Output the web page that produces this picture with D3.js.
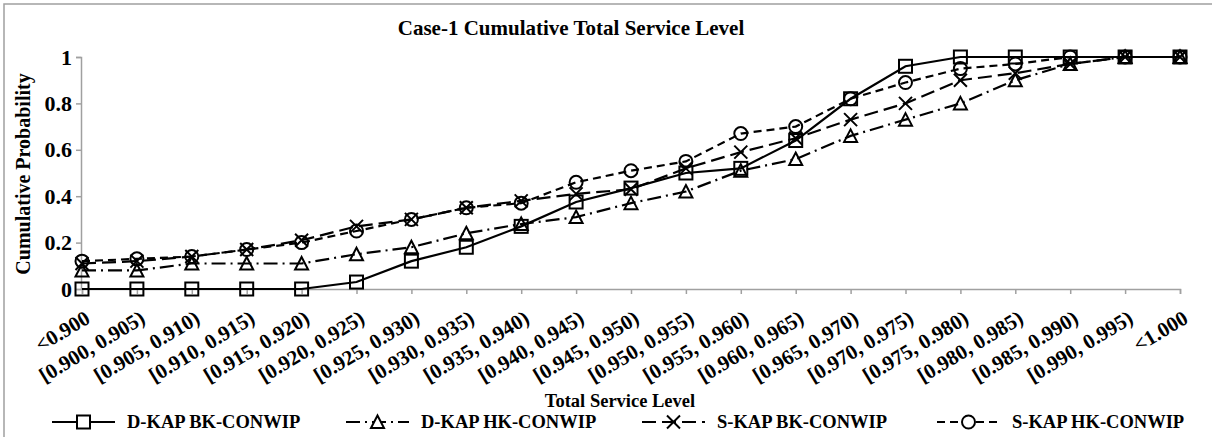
<!DOCTYPE html>
<html>
<head>
<meta charset="utf-8">
<script src="https://cdn.jsdelivr.net/npm/d3@7"></script>
<style>
  body { margin: 0; background: #fff; }
  svg text { font-family: "Liberation Serif", "Times New Roman", serif; font-weight: bold; fill: #000; }
</style>
</head>
<body>
<svg id="chart" width="1212" height="437"></svg>
<script>
// categories on the x axis
var categories = ["<0.900", "[0.900, 0.905)", "[0.905, 0.910)", "[0.910, 0.915)", "[0.915, 0.920)",
    "[0.920, 0.925)", "[0.925, 0.930)", "[0.930, 0.935)", "[0.935, 0.940)", "[0.940, 0.945)",
    "[0.945, 0.950)", "[0.950, 0.955)", "[0.955, 0.960)", "[0.960, 0.965)", "[0.965, 0.970)",
    "[0.970, 0.975)", "[0.975, 0.980)", "[0.980, 0.985)", "[0.985, 0.990)", "[0.990, 0.995)", "<1.000"];

// cumulative probability per series
var dkapBK = [0, 0, 0, 0, 0, 0.03, 0.12, 0.18, 0.27, 0.375, 0.435, 0.50, 0.52, 0.64, 0.82, 0.96, 1, 1, 1, 1, 1];
var dkapHK = [0.08, 0.08, 0.11, 0.11, 0.11, 0.15, 0.18, 0.24, 0.28, 0.31, 0.37, 0.42, 0.51, 0.56, 0.66, 0.73, 0.80, 0.90, 0.97, 1, 1];
var skapBK = [0.11, 0.12, 0.14, 0.17, 0.21, 0.27, 0.30, 0.35, 0.38, 0.41, 0.43, 0.52, 0.59, 0.65, 0.73, 0.80, 0.90, 0.93, 0.97, 1, 1];
var skapHK = [0.12, 0.13, 0.14, 0.17, 0.20, 0.25, 0.30, 0.35, 0.37, 0.46, 0.51, 0.55, 0.67, 0.70, 0.82, 0.89, 0.95, 0.97, 1, 1, 1];

var seriesNames = ["D-KAP BK-CONWIP", "D-KAP HK-CONWIP", "S-KAP BK-CONWIP", "S-KAP HK-CONWIP"];
var yTicks = [0, 0.2, 0.4, 0.6, 0.8, 1];

var series = [
    {name: seriesNames[0], values: dkapBK, dash: null, marker: "square"},
    {name: seriesNames[1], values: dkapHK, dash: "14,5,2,5", marker: "triangle"},
    {name: seriesNames[2], values: skapBK, dash: "14,6", marker: "cross"},
    {name: seriesNames[3], values: skapHK, dash: "8,5", marker: "circle"}
];

var svg = d3.select("#chart");
var axisColor = "#a0a0a0";

// outer chart border
svg.append("rect")
    .attr("x", 4).attr("y", 4)
    .attr("width", 1300).attr("height", 600)
    .attr("fill", "none")
    .attr("stroke", axisColor)
    .attr("stroke-width", 1.5);

var x = d3.scalePoint().domain(categories).range([82, 1180]);
var y = d3.scaleLinear().domain([0, 1]).range([289, 57]);

// y axis
var yAxis = svg.append("g")
    .attr("transform", "translate(81,0)")
    .call(d3.axisLeft(y).tickValues(yTicks).tickSize(5)
        .tickFormat(function(d){ return d === 0 || d === 1 ? d3.format("d")(d) : d3.format(".1f")(d); }));
yAxis.selectAll("path, line").attr("stroke", axisColor).attr("stroke-width", 1.5);
yAxis.selectAll("text").attr("font-size", 22).attr("x", -9)
    .style("font-family", "Liberation Serif").style("font-weight", "bold");

// x axis
var xAxis = svg.append("g")
    .attr("transform", "translate(0,289)")
    .call(d3.axisBottom(x).tickSize(5).tickSizeOuter(5));
xAxis.selectAll("path, line").attr("stroke", axisColor).attr("stroke-width", 1.5);
xAxis.selectAll("text")
    .attr("font-size", 21)
    .style("font-family", "Liberation Serif").style("font-weight", "bold")
    .attr("text-anchor", "end")
    .attr("x", 0).attr("y", 0).attr("dy", 0)
    .attr("transform", "translate(9,33) rotate(-31)");

// title and axis titles
svg.append("text").attr("x", 571).attr("y", 35)
    .attr("text-anchor", "middle").attr("font-size", 21)
    .text("Case-1 Cumulative Total Service Level");

svg.append("text").attr("x", 620).attr("y", 407)
    .attr("text-anchor", "middle").attr("font-size", 18.5)
    .text("Total Service Level");

svg.append("text")
    .attr("transform", "translate(30,174) rotate(-90)")
    .attr("text-anchor", "middle").attr("font-size", 20)
    .text("Cumulative Probability");

function drawMarker(g, type, cx, cy) {
    var s = 6.5;
    if (type === "square") {
        g.append("rect").attr("x", cx - s).attr("y", cy - s)
            .attr("width", 2 * s).attr("height", 2 * s);
    } else if (type === "triangle") {
        g.append("path").attr("d", "M" + cx + "," + (cy - s) + "L" + (cx + s) + "," + (cy + s - 0.5) +
            "L" + (cx - s) + "," + (cy + s - 0.5) + "Z");
    } else if (type === "circle") {
        g.append("circle").attr("cx", cx).attr("cy", cy).attr("r", s);
    } else {
        g.append("path").attr("d", "M" + (cx - s) + "," + (cy - s) + "L" + (cx + s) + "," + (cy + s) +
            "M" + (cx + s) + "," + (cy - s) + "L" + (cx - s) + "," + (cy + s));
    }
}

var line = d3.line()
    .x(function(d, i){ return x(categories[i]); })
    .y(function(d){ return y(d); });

series.forEach(function(s){
    svg.append("path")
        .datum(s.values)
        .attr("d", line)
        .attr("fill", "none")
        .attr("stroke", "#000")
        .attr("stroke-width", 2.2)
        .attr("stroke-dasharray", s.dash);
    var mg = svg.append("g").attr("fill", "none").attr("stroke", "#000").attr("stroke-width", 2);
    s.values.forEach(function(v, i){
        drawMarker(mg, s.marker, x(categories[i]), y(v));
    });
});

// legend
var legendStart = [127, 421, 717, 1012];
var legendY = 428;
series.forEach(function(s, i){
    var tx = legendStart[i];
    var lg = svg.append("g");
    lg.append("line")
        .attr("x1", tx - 75).attr("x2", tx - 12)
        .attr("y1", legendY - 6).attr("y2", legendY - 6)
        .attr("stroke", "#000").attr("stroke-width", 2.2)
        .attr("stroke-dasharray", s.dash);
    var mg = lg.append("g").attr("fill", "#fff").attr("stroke", "#000").attr("stroke-width", 2);
    drawMarker(mg, s.marker, tx - 43.5, legendY - 6);
    lg.append("text").attr("x", tx).attr("y", legendY)
        .attr("font-size", 18.5).text(s.name);
});
</script>
</body>
</html>
